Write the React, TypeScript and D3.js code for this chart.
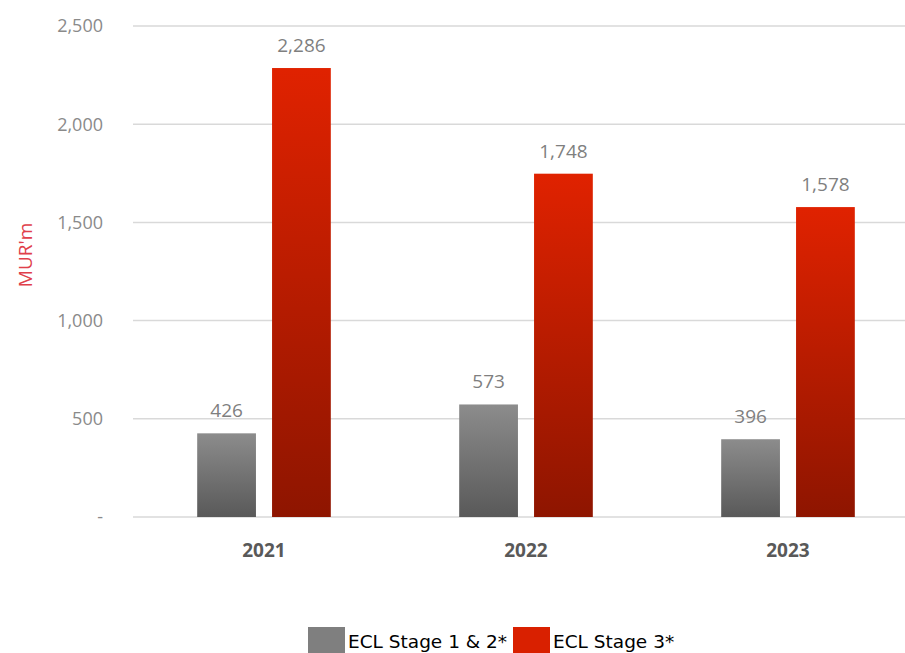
import React from "react";
import * as d3 from "d3";

const years = ["2021", "2022", "2023"];
const seriesNames = ["ECL Stage 1 & 2*", "ECL Stage 3*"];
const stage12 = [426, 573, 396];
const stage3 = [2286, 1748, 1578];
const yTicks = [0, 500, 1000, 1500, 2000, 2500];

const W = 905;
const H = 653;

export default function App() {
  const x0 = d3.scaleBand<string>().domain(years).range([133, 919]).paddingInner(0.49).paddingOuter(0.245);
  const x1 = d3.scaleBand<string>().domain(seriesNames).range([0, x0.bandwidth()]).paddingInner(0.215);
  const y = d3.scaleLinear().domain([0, 2500]).range([517, 26]);
  const fmt = d3.format(",");
  const series = [stage12, stage3];
  const fills = ["url(#gGrey)", "url(#gRed)"];
  const legendFill = ["#7f7f7f", "#d92000"];
  const font = "'Open Sans', 'Liberation Sans', sans-serif";

  return (
    <svg width={W} height={H} style={{ position: "absolute", left: 0, top: 0, background: "#fff" }}>
      <defs>
        <linearGradient id="gGrey" x1="0" y1="0" x2="0" y2="1">
          <stop offset="0" stopColor="#8c8c8c" />
          <stop offset="1" stopColor="#595959" />
        </linearGradient>
        <linearGradient id="gRed" x1="0" y1="0" x2="0" y2="1">
          <stop offset="0" stopColor="#e02200" />
          <stop offset="1" stopColor="#8e1500" />
        </linearGradient>
      </defs>
      {yTicks.map((t) => (
        <g key={t}>
          <line x1={133} x2={W} y1={y(t)} y2={y(t)} stroke="#d9d9d9" strokeWidth={1.5} />
          <text x={103} y={y(t)} dy="0.35em" textAnchor="end" fontFamily={font} fontSize={18} fill="#8a8a8a">
            {t === 0 ? "-" : fmt(t)}
          </text>
        </g>
      ))}
      <text
        transform={`translate(25,255) rotate(-90)`}
        textAnchor="middle"
        dy="0.35em"
        fontFamily={font}
        fontSize={19}
        fill="#e0404a"
      >
        MUR'm
      </text>
      {years.map((yr, i) => (
        <g key={yr} transform={`translate(${x0(yr)},0)`}>
          {seriesNames.map((s, j) => {
            const v = series[j][i];
            const bx = x1(s)!;
            return (
              <g key={s}>
                <rect x={bx} y={y(v)} width={x1.bandwidth()} height={y(0) - y(v)} fill={fills[j]} />
                <text
                  x={bx + x1.bandwidth() / 2}
                  y={y(v) - 16}
                  textAnchor="middle"
                  fontFamily={font}
                  fontSize={19}
                  fill="#7f7f7f"
                >
                  {fmt(v)}
                </text>
              </g>
            );
          })}
          <text
            x={x0.bandwidth() / 2}
            y={557}
            textAnchor="middle"
            fontFamily={font}
            fontSize={19}
            fontWeight="bold"
            fill="#595959"
          >
            {yr}
          </text>
        </g>
      ))}
      {seriesNames.map((s, j) => {
        const lx = [308, 513][j];
        return (
          <g key={s}>
            <rect x={lx} y={627} width={37} height={26} fill={legendFill[j]} />
            <text x={lx + 40} y={648} fontFamily="'DejaVu Sans', sans-serif" fontSize={18.5} fill="#000">
              {s}
            </text>
          </g>
        );
      })}
    </svg>
  );
}
